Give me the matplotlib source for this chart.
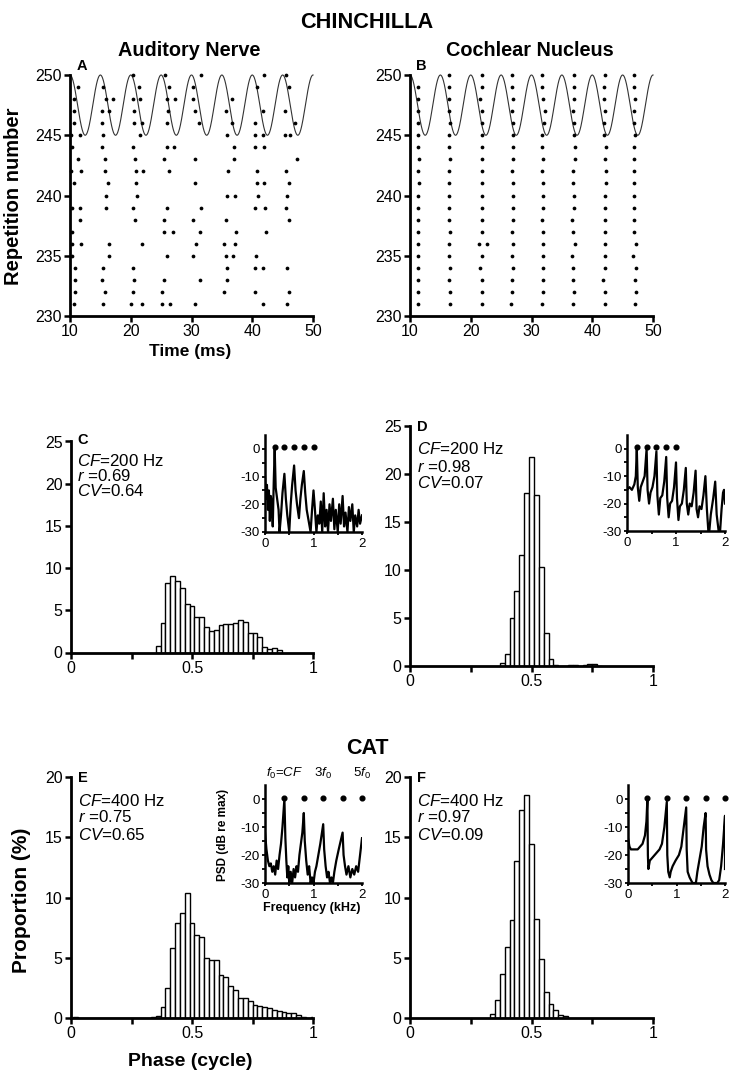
import numpy as np
import matplotlib
matplotlib.use("Agg")
import matplotlib.pyplot as plt

plt.rcParams["font.family"] = ["Liberation Sans", "DejaVu Sans"]
plt.rcParams["axes.unicode_minus"] = False
plt.rcParams["mathtext.fontset"] = "custom"
plt.rcParams["mathtext.it"] = "Liberation Sans:italic"
plt.rcParams["mathtext.rm"] = "Liberation Sans"
plt.rcParams["mathtext.bf"] = "Liberation Sans:bold"

# ---------------- data ----------------
rep_rows = list(range(250, 230, -1))

# auditory nerve spike times (ms), one list per repetition (250 .. 231)
an_spikes = [
    [20.4, 25.7, 31.6, 41.9, 45.5],
    [11.3, 15.5, 21.4, 26.3, 30.3, 40.8, 46.1],
    [10.6, 16.0, 17.1, 20.4, 21.5, 26.0, 27.3, 30.3, 36.7],
    [10.6, 15.3, 16.5, 20.5, 26.2, 30.5, 35.7, 41.7, 45.4],
    [10.6, 15.3, 20.5, 21.8, 26.0, 31.2, 36.7, 40.5, 47.0],
    [10.2, 11.7, 15.4, 21.5, 35.8, 40.4, 41.7, 45.4, 46.2],
    [10.4, 15.3, 20.3, 25.9, 27.2, 37.0, 40.5, 41.9],
    [11.3, 15.8, 20.7, 25.5, 30.6, 37.0, 47.3],
    [10.2, 11.8, 15.7, 20.8, 22.0, 26.3, 36.0, 40.8, 45.6],
    [10.6, 16.2, 20.9, 30.5, 40.8, 41.9, 46.1],
    [15.9, 21.1, 35.9, 37.2, 40.9, 45.7],
    [10.4, 11.7, 16.0, 20.3, 26.0, 31.6, 40.5, 42.1, 45.6],
    [11.7, 20.7, 25.4, 30.2, 35.7, 46.1],
    [10.4, 25.4, 27.0, 31.4, 37.3, 42.2],
    [10.4, 11.8, 16.4, 21.8, 30.7, 35.4, 37.2],
    [10.4, 16.5, 26.0, 30.2, 35.7, 36.9, 40.6],
    [10.9, 15.4, 20.3, 35.9, 40.5, 41.8, 45.7],
    [10.8, 15.3, 20.5, 25.5, 31.4, 35.8],
    [10.8, 15.7, 20.3, 25.2, 35.4, 40.5, 46.1],
    [10.7, 15.4, 20.1, 21.8, 25.2, 26.5, 30.5, 41.8, 45.7],
]

# cochlear nucleus spike times (ms)
cn_spikes = [
    [16.5, 21.8, 26.8, 31.8, 37.0, 42.1, 46.8],
    [11.3, 16.5, 21.8, 26.8, 31.8, 37.0, 42.0, 46.8],
    [11.3, 16.5, 21.6, 26.9, 31.9, 37.0, 42.0, 47.0],
    [11.3, 16.5, 21.8, 26.8, 32.3, 36.9, 42.1, 46.8],
    [11.3, 16.6, 21.8, 27.0, 32.0, 37.0, 42.0, 46.8],
    [11.3, 16.4, 21.8, 26.9, 31.8, 37.0, 42.0, 47.0],
    [11.3, 16.5, 21.8, 26.9, 31.8, 37.1, 42.2, 46.8],
    [11.5, 16.6, 21.8, 26.9, 31.9, 37.1, 42.1, 46.8],
    [11.3, 16.5, 21.8, 26.8, 31.8, 36.9, 42.2, 46.8],
    [11.4, 16.5, 21.8, 26.9, 31.9, 36.9, 42.2, 46.8],
    [11.3, 16.5, 21.8, 26.9, 31.9, 37.0, 42.1, 46.8],
    [11.3, 16.5, 21.8, 26.9, 31.9, 37.0, 42.1, 46.8],
    [11.3, 16.5, 21.8, 26.9, 31.8, 36.6, 42.1, 46.8],
    [11.3, 16.6, 21.8, 26.8, 31.9, 36.9, 42.1, 46.8],
    [11.3, 16.5, 21.4, 22.7, 26.9, 31.9, 37.1, 42.1, 47.2],
    [11.3, 16.5, 21.9, 26.8, 31.9, 36.6, 42.1, 46.7],
    [11.3, 16.6, 21.6, 26.9, 31.9, 36.9, 42.1, 47.2],
    [11.3, 16.5, 21.8, 26.8, 31.9, 36.9, 41.7, 47.1],
    [11.3, 16.6, 21.8, 26.8, 31.9, 37.0, 42.1, 47.2],
    [11.3, 16.6, 21.8, 26.6, 31.8, 36.9, 42.1, 47.0],
]

stim_freq_hz = 200.0

# phase histograms (bin centres, proportion %)
c_start = 0.36
c_vals = [0.8, 3.5, 8.2, 9.1, 8.5, 7.6, 5.8, 5.55, 4.25, 4.2, 3.0, 2.6, 2.7,
          3.2, 3.35, 3.35, 3.45, 3.8, 3.6, 2.3, 2.3, 1.85, 0.6, 0.45, 0.5, 0.35]
d_start = 0.38
d_vals = [0.28, 1.3, 5.0, 7.85, 11.6, 18.0, 21.8, 17.8, 10.35, 3.4, 0.7, 0.1,
          0.05, 0.0, 0.1, 0.1, 0.05, 0.15, 0.2, 0.2, 0.05]
e_start = 0.02
e_vals = [0.1, 0, 0, 0, 0, 0, 0, 0, 0, 0, 0, 0, 0, 0, 0, 0, 0.05,
          0.17, 0.9, 2.5, 5.8, 7.85, 8.7, 10.4, 7.85, 6.9, 6.75, 5.0, 4.8, 4.8,
          3.6, 3.4, 2.65, 2.3, 1.7, 1.7, 1.4, 1.1, 1.0, 0.95, 0.85, 0.7, 0.6,
          0.5, 0.45, 0.4, 0.25, 0.05, 0.0, 0.1]
f_start = 0.34
f_vals = [0.36, 1.47, 3.65, 5.86, 8.16, 13.0, 17.3, 18.5, 14.4, 8.24, 4.9,
          2.16, 1.16, 0.7, 0.22, 0.2]
bin_width = 0.02

# PSD insets (kHz, dB re max)
psd_c_f = [0.0, 0.02, 0.04, 0.06, 0.08, 0.10, 0.12, 0.14, 0.16, 0.18, 0.20, 0.22,
           0.25, 0.28, 0.30, 0.33, 0.36, 0.40, 0.43, 0.46, 0.50, 0.53, 0.56, 0.60,
           0.63, 0.66, 0.70, 0.73, 0.76, 0.80, 0.83, 0.86, 0.90, 0.94, 0.97, 1.00,
           1.03, 1.06, 1.09, 1.12, 1.15, 1.18, 1.21, 1.24, 1.27, 1.30, 1.33, 1.36,
           1.40, 1.43, 1.46, 1.50, 1.53, 1.56, 1.60, 1.63, 1.66, 1.70, 1.73, 1.76,
           1.80, 1.83, 1.86, 1.90, 1.93, 1.96, 2.00]
psd_c_db = [-10, -18, -13, -22, -15, -26, -17, -20, -28, -12, 0, -14,
            -18, -22, -30, -24, -16, -9, -18, -24, -30, -20, -13, -6,
            -15, -20, -25, -18, -13, -8, -16, -22, -26, -30, -22, -15,
            -22, -30, -24, -27, -19, -30, -16, -28, -22, -30, -20, -26,
            -18, -29, -22, -30, -20, -27, -17, -28, -23, -30, -21, -26,
            -20, -30, -24, -28, -22, -27, -24]

psd_d_f = [0.0, 0.05, 0.10, 0.15, 0.18, 0.20, 0.22, 0.25, 0.28, 0.32, 0.36, 0.40,
           0.42, 0.45, 0.48, 0.52, 0.56, 0.60, 0.62, 0.65, 0.68, 0.72, 0.76, 0.80,
           0.82, 0.85, 0.88, 0.92, 0.96, 1.00, 1.02, 1.05, 1.08, 1.12, 1.16, 1.20,
           1.22, 1.25, 1.28, 1.32, 1.36, 1.40, 1.42, 1.45, 1.48, 1.52, 1.56, 1.60,
           1.63, 1.66, 1.68, 1.71, 1.76, 1.80, 1.83, 1.87, 1.90, 1.93, 1.96, 1.98, 2.00]
psd_d_db = [-15, -14, -15, -13, -10, 0, -14, -19, -14, -12, -10, 0,
            -15, -20, -16, -14, -10, -1, -17, -24, -18, -17, -12, -3,
            -18, -25, -20, -19, -14, -5, -18, -26, -21, -20, -15, -7,
            -20, -24, -20, -21, -16, -8, -22, -25, -21, -22, -17, -10,
            -22, -30, -30, -24, -18, -12, -24, -30, -30, -22, -16, -15, -20]

psd_e_f = [0.0, 0.03, 0.06, 0.09, 0.12, 0.15, 0.18, 0.21, 0.24, 0.27, 0.30, 0.33,
           0.36, 0.40, 0.42, 0.44, 0.46, 0.48, 0.50, 0.53, 0.56, 0.59, 0.62, 0.65,
           0.68, 0.71, 0.74, 0.77, 0.80, 0.82, 0.85, 0.88, 0.91, 0.94, 0.97, 1.00,
           1.03, 1.06, 1.10, 1.14, 1.20, 1.22, 1.25, 1.28, 1.31, 1.34, 1.37, 1.40,
           1.43, 1.47, 1.52, 1.56, 1.60, 1.62, 1.65, 1.68, 1.72, 1.76, 1.80, 1.84,
           1.88, 1.92, 1.96, 2.00]
psd_e_db = [-12, -18, -22, -24, -23, -26, -24, -27, -22, -25, -20, -16,
            -10, 0, -14, -22, -28, -24, -30, -26, -30, -25, -28, -24,
            -26, -20, -16, -12, -5, -15, -22, -27, -24, -30, -28, -30,
            -26, -24, -20, -16, -9, -18, -24, -28, -26, -30, -28, -30,
            -26, -22, -18, -15, -12, -20, -24, -27, -24, -28, -25, -27,
            -24, -26, -20, -14]

psd_f_f = [0.0, 0.03, 0.06, 0.10, 0.15, 0.20, 0.25, 0.30, 0.35, 0.38, 0.40, 0.41,
           0.42, 0.45, 0.50, 0.55, 0.60, 0.65, 0.70, 0.75, 0.80, 0.81, 0.83, 0.86,
           0.88, 0.92, 0.98, 1.05, 1.10, 1.15, 1.20, 1.21, 1.23, 1.27, 1.30, 1.33,
           1.37, 1.40, 1.43, 1.47, 1.52, 1.56, 1.60, 1.61, 1.64, 1.68, 1.72, 1.76,
           1.80, 1.84, 1.88, 1.92, 1.96, 2.00, 2.00]
psd_f_db = [-14, -17, -18, -18, -18, -18, -17, -16, -13, -8, 0, -20,
            -25, -22, -21, -20, -19, -18, -16, -10, -1, -20, -26, -28,
            -26, -24, -22, -20, -17, -10, -3, -18, -26, -28, -29, -30,
            -30, -30, -26, -22, -17, -10, -5, -18, -24, -27, -29, -30,
            -30, -30, -29, -24, -16, -6, -25]

harm_chin = [0.2, 0.4, 0.6, 0.8, 1.0]
harm_cat = [0.4, 0.8, 1.2, 1.6, 2.0]

# ---------------- figure ----------------
W, H = 734, 1078
fig = plt.figure(figsize=(W / 100, H / 100), dpi=100)


def box(x0, y_top, x1, y_bot):
    return [x0 / W, 1 - y_bot / H, (x1 - x0) / W, (y_bot - y_top) / H]


def ft(x, y, s, **kw):
    fig.text(x / W, 1 - y / H, s, **kw)


def style_main(ax):
    for s in ["top", "right"]:
        ax.spines[s].set_visible(False)
    for s in ["left", "bottom"]:
        ax.spines[s].set_linewidth(2.0)
    ax.tick_params(direction="out", width=1.8, length=4, labelsize=11.5, pad=2)


def raster(ax, spikes):
    t = np.linspace(10, 50, 800)
    wave = 247.5 + 2.5 * np.cos(2 * np.pi * stim_freq_hz * (t - 10) / 1000.0)
    ax.plot(t, wave, color="#333333", lw=0.8, clip_on=False)
    for rep, times in zip(rep_rows, spikes):
        ax.plot(times, [rep] * len(times), "o", ms=2.7, color="black",
                mec="none", clip_on=False)
    ax.set_xlim(10, 50)
    ax.set_ylim(230, 250)
    ax.set_xticks([10, 20, 30, 40, 50])
    ax.set_yticks([230, 235, 240, 245, 250])
    style_main(ax)


axA = fig.add_axes(box(70, 75, 313, 316))
raster(axA, an_spikes)
axB = fig.add_axes(box(410, 75, 653, 316))
raster(axB, cn_spikes)


def hist(ax, start, vals, ymax):
    centers = start + bin_width * np.arange(len(vals))
    ax.bar(centers, vals, width=bin_width, facecolor="white",
           edgecolor="black", lw=1.0)
    ax.set_xlim(0, 1)
    ax.set_ylim(0, ymax)
    ax.set_xticks([0, 0.25, 0.5, 0.75, 1])
    ax.set_xticklabels(["0", "", "0.5", "", "1"])
    ax.set_yticks(np.arange(0, ymax + 1, 5))
    style_main(ax)


axC = fig.add_axes(box(71, 441.5, 313, 652.5))
hist(axC, c_start, c_vals, 25)
axD = fig.add_axes(box(410, 426, 653, 666))
hist(axD, d_start, d_vals, 25)
axE = fig.add_axes(box(71, 777, 313, 1018))
hist(axE, e_start, e_vals, 20)
axF = fig.add_axes(box(410, 777, 653, 1018))
hist(axF, f_start, f_vals, 20)


def inset(rect, f, db, harm):
    ax = fig.add_axes(rect)
    ax.plot(f, db, color="black", lw=1.6)
    ax.plot(harm, [0.5] * len(harm), "o", ms=3.4, color="black", clip_on=False)
    ax.set_xlim(0, 2)
    ax.set_ylim(-30, 5)
    ax.set_xticks([0, 1, 2])
    ax.set_xticks([0.5, 1.5], minor=True)
    ax.set_yticks([0, -10, -20, -30])
    ax.set_yticks([-5, -15, -25], minor=True)
    for s in ["top", "right"]:
        ax.spines[s].set_visible(False)
    for s in ["left", "bottom"]:
        ax.spines[s].set_linewidth(1.8)
    ax.tick_params(which="both", direction="out", width=1.3, length=2.5,
                   labelsize=9.5, pad=1.5)
    ax.set_facecolor("none")
    return ax


inset(box(265, 435, 362, 532), psd_c_f, psd_c_db, harm_chin)
inset(box(627, 435, 725, 531), psd_d_f, psd_d_db, harm_chin)
axEi = inset(box(265, 785, 362, 883), psd_e_f, psd_e_db, harm_cat)
inset(box(628, 785, 725, 883), psd_f_f, psd_f_db, harm_cat)

axEi.text(0.4, 6.5, r"$f_{\mathit{0}}$=$CF$", ha="center", va="bottom", fontsize=9.5)
axEi.text(1.2, 6.5, r"3$f_{\mathit{0}}$", ha="center", va="bottom", fontsize=9.5)
axEi.text(2.0, 6.5, r"5$f_{\mathit{0}}$", ha="center", va="bottom", fontsize=9.5)

# ---------------- text ----------------
ft(367, 23, "CHINCHILLA", ha="center", va="center", fontsize=15.7, fontweight="bold")
ft(189, 50, "Auditory Nerve", ha="center", va="center", fontsize=14.3, fontweight="bold")
ft(530, 50, "Cochlear Nucleus", ha="center", va="center", fontsize=14.3, fontweight="bold")
ft(77, 66, "A", ha="left", va="center", fontsize=10.5, fontweight="bold")
ft(416, 66, "B", ha="left", va="center", fontsize=10.5, fontweight="bold")
ft(14, 196, "Repetition number", ha="center", va="center", rotation=90,
   fontsize=14.5, fontweight="bold")
ft(190, 351, "Time (ms)", ha="center", va="center", fontsize=12.5, fontweight="bold")

ft(367, 748, "CAT", ha="center", va="center", fontsize=15.5, fontweight="bold")
ft(22, 900, "Proportion (%)", ha="center", va="center", rotation=90,
   fontsize=15, fontweight="bold")
ft(190, 1062, "Phase (cycle)", ha="center", va="center", fontsize=14, fontweight="bold")
ft(223, 835, "PSD (dB re max)", ha="center", va="center", rotation=90,
   fontsize=8.5, fontweight="bold")
ft(312, 908, "Frequency (kHz)", ha="center", va="center", fontsize=9, fontweight="bold")

panel_text = [
    ("C", 77, 440, [r"$CF$=200 Hz", r"$r$ =0.69", r"$CV$=0.64"], [461, 476, 491]),
    ("D", 417, 427, [r"$CF$=$\mathit{200}$ Hz", r"$r$ =0.98", r"$CV$=0.07"], [449, 467, 483]),
    ("E", 78, 778, [r"$CF$=400 Hz", r"$r$ =0.75", r"$CV$=0.65"], [801, 817, 835]),
    ("F", 417, 778, [r"$CF$=400 Hz", r"$r$ =0.97", r"$CV$=0.09"], [801, 817, 835]),
]
for letter, x, y, lines, ys in panel_text:
    ft(x, y, letter, ha="left", va="center", fontsize=10.5, fontweight="bold")
    for s, yy in zip(lines, ys):
        ft(x, yy, s, ha="left", va="center", fontsize=12.2)

fig.savefig("out.png", dpi=100)
